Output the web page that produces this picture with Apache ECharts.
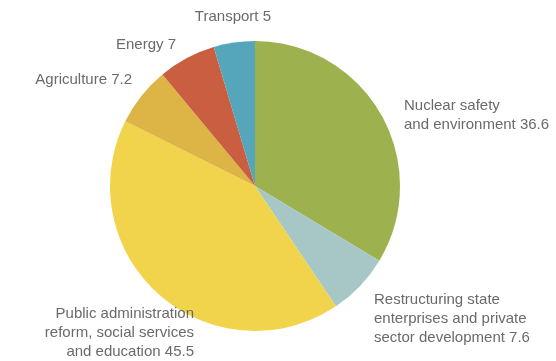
<!DOCTYPE html>
<html>
<head>
<meta charset="utf-8">
<script src="https://cdn.jsdelivr.net/npm/echarts@6/dist/echarts.min.js"></script>
<style>html,body{margin:0;padding:0;background:#fff;}#c{width:556px;height:361px;}</style>
</head>
<body>
<div id="c"></div>
<script>
var categories = [
  "Nuclear safety\nand environment",
  "Restructuring state\nenterprises and private\nsector development",
  "Public administration\nreform, social services\nand education",
  "Agriculture",
  "Energy",
  "Transport"
];
var values = [36.6, 7.6, 45.5, 7.2, 7, 5];
var colors = ["#9db24e", "#a6c7c6", "#f2d44c", "#ddb446", "#c95e40", "#55a6ba"];

// label anchor positions (layout only)
var labelPos = [
  {x: 404, y: 115, align: "left"},
  {x: 374, y: 319, align: "left"},
  {x: 194, y: 333, align: "right"},
  {x: 132, y: 80, align: "right"},
  {x: 176, y: 45, align: "right"},
  {x: 271, y: 17, align: "right"}
];

var chart = echarts.init(document.getElementById('c'), null, {renderer: 'canvas'});
chart.setOption({
  animation: false,
  series: [{
    type: 'pie',
    center: [255, 186],
    radius: [0, 145],
    startAngle: 90,
    clockwise: true,
    avoidLabelOverlap: false,
    data: categories.map(function (c, i) {
      return {name: c, value: values[i], itemStyle: {color: colors[i]}};
    }),
    label: {
      show: true,
      position: 'outside',
      formatter: function (p) { return p.name + ' ' + p.value; },
      color: '#6a6a6a',
      fontFamily: 'Liberation Sans, Arial, sans-serif',
      fontSize: 15,
      lineHeight: 19
    },
    labelLine: {show: false},
    labelLayout: function (params) {
      var p = labelPos[params.dataIndex];
      return {x: p.x, y: p.y, align: p.align, verticalAlign: 'middle', hideOverlap: false};
    },
    emphasis: {disabled: true}
  }]
});
</script>
</body>
</html>
